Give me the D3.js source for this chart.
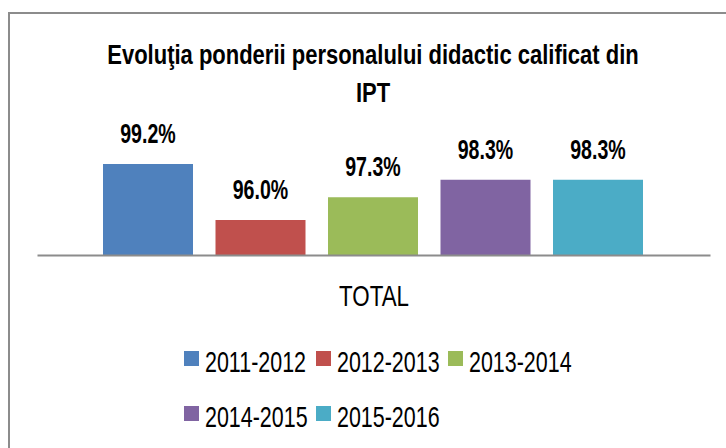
<!DOCTYPE html>
<html>
<head>
<meta charset="utf-8">
<script src="https://cdn.jsdelivr.net/npm/d3@7"></script>
<style>
  html, body { margin: 0; padding: 0; background: #fff; }
  svg { display: block; }
  text { font-family: "Liberation Sans Narrow", "Arial Narrow", "Liberation Sans", Arial, sans-serif; fill: #000; }
</style>
</head>
<body>
<div id="chart"></div>
<script>
// chart data
const titleLines = ['Evoluţia ponderii personalului didactic calificat din', 'IPT'];
const category = 'TOTAL';
const seriesNames = ['2011-2012', '2012-2013', '2013-2014', '2014-2015', '2015-2016'];
const seriesValues = [99.2, 96.0, 97.3, 98.3, 98.3];
const seriesColors = ['#4F81BD', '#C0504D', '#9BBB59', '#8064A2', '#4BACC6'];
const legendRows = [[0, 1, 2], [3, 4]];

const width = 726, height = 448;

const svg = d3.select('#chart').append('svg')
    .attr('width', width)
    .attr('height', height);

// chart area border (runs off the right and bottom edges)
svg.append('rect')
    .attr('x', 9).attr('y', 13)
    .attr('width', 760).attr('height', 480)
    .attr('fill', '#fff')
    .attr('stroke', '#8c8c8c')
    .attr('stroke-width', 2);

// helper for horizontally condensed text (no narrow font installed)
function addText(x, y, str, size, weight, sx, anchor) {
  return svg.append('text')
    .attr('transform', `translate(${x},${y}) scale(${sx},1)`)
    .attr('text-anchor', anchor || 'middle')
    .style('font-size', size + 'px')
    .style('font-weight', weight)
    .text(str);
}

// title
titleLines.forEach((line, i) => addText(373, 64 + i * 38, line, 27, 'bold', 0.815));

// scales
const xScale = d3.scaleBand().domain(seriesNames).range([103, 643]).paddingInner(0.2).paddingOuter(0);
const yScale = d3.scaleLinear().domain([94, 100]).range([255, 150]);

// bars
svg.append('g').selectAll('rect')
    .data(seriesNames)
    .join('rect')
    .attr('x', d => xScale(d))
    .attr('y', (d, i) => yScale(seriesValues[i]))
    .attr('width', xScale.bandwidth())
    .attr('height', (d, i) => yScale(94) - yScale(seriesValues[i]))
    .attr('fill', (d, i) => seriesColors[i]);

// value labels
seriesNames.forEach((d, i) => {
  addText(xScale(d) + xScale.bandwidth() / 2, yScale(seriesValues[i]) - 21,
          seriesValues[i].toFixed(1) + '%', 28, 'bold', 0.70);
});

// category axis line
const xAxis = d3.axisBottom(d3.scaleLinear().range([37, 710])).ticks(0).tickSize(0).tickFormat('');
svg.append('g')
    .attr('transform', `translate(0, ${yScale(94)})`)
    .call(xAxis)
    .call(g => g.select('.domain').attr('stroke', '#8c8c8c').attr('stroke-width', 2));

// category label
addText(374, 306, category, 29, 'normal', 0.77);

// legend
legendRows.forEach((row, r) => {
  const baseY = 372 + r * 55;
  row.forEach((idx, c) => {
    const lx = 184 + c * 132;
    svg.append('rect')
        .attr('x', lx).attr('y', baseY - 21)
        .attr('width', 15).attr('height', 15)
        .attr('fill', seriesColors[idx]);
    addText(lx + 21, baseY, seriesNames[idx], 29, 'normal', 0.74, 'start');
  });
});
</script>
</body>
</html>
